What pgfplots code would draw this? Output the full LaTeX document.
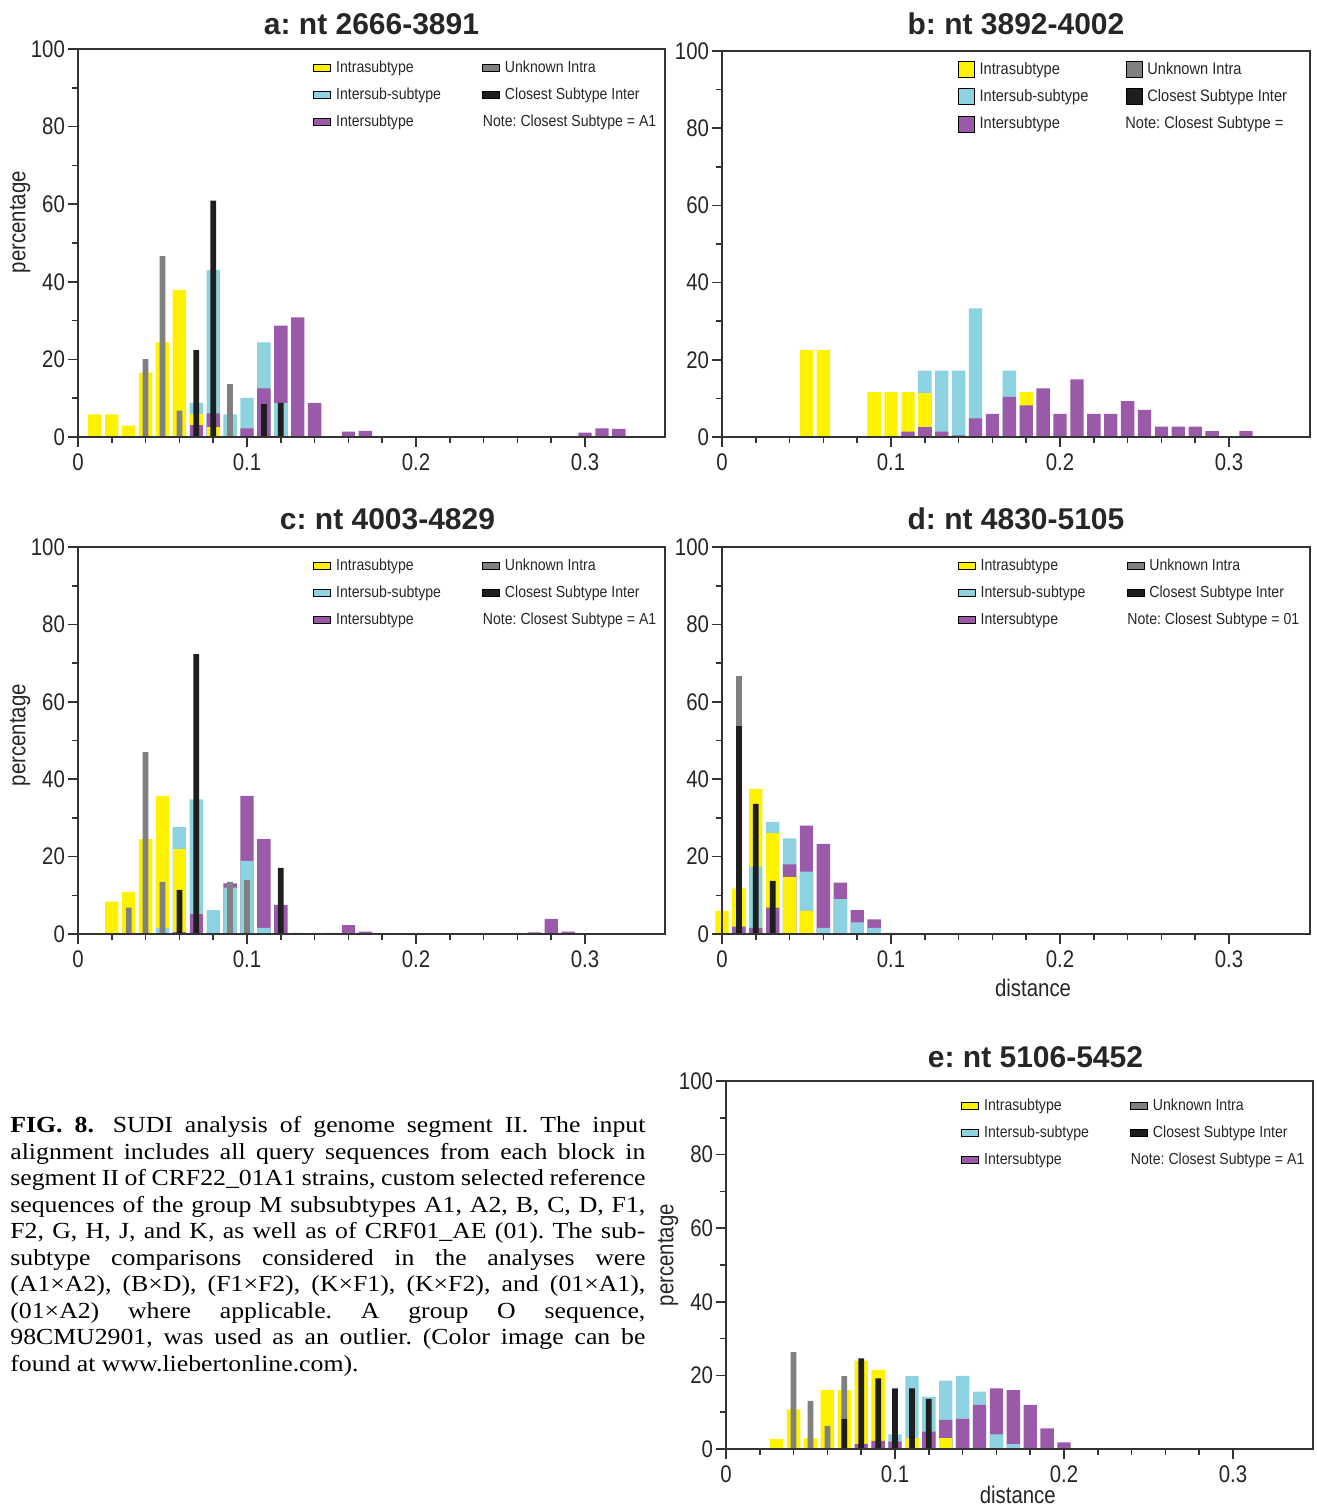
\documentclass[border=0pt]{standalone}
\usepackage{fontspec}
\setmainfont{Liberation Serif}
\newfontfamily\capfont{Liberation Serif}[FakeStretch=1.12]
\newfontfamily\nsans{Liberation Sans}[FakeStretch=0.85]
\newfontfamily\lsans{Liberation Sans}[FakeStretch=0.88]
\newfontfamily\tsans{Liberation Sans}
\usepackage{pgfplots}
\pgfplotsset{compat=1.18}
\frenchspacing

\definecolor{cY}{RGB}{255,242,0}
\definecolor{cC}{RGB}{140,210,225}
\definecolor{cP}{RGB}{155,89,170}
\definecolor{cG}{RGB}{128,128,128}
\definecolor{cK}{RGB}{30,30,30}

\pgfplotsset{
  wb/.style={ybar, bar width=0.0079, bar shift=0pt, fill=#1, draw=none, forget plot},
  nb/.style={ybar, bar width=0.0034, bar shift=0pt, fill=#1, draw=none, forget plot},
  legline/.style={legend image code/.code={\fill[##1] (0pt,-1.6pt) rectangle (8.5pt,1.6pt);}},
  legsq/.style={legend image code/.code={\fill[##1] (0pt,-3.9pt) rectangle (8pt,4.1pt);}},
  panel/.style={
    scale only axis, width=293.5pt, height=194pt,
    xmin=0, xmax=0.3473, ymin=0, ymax=100,
    xtick={0,0.1,0.2,0.3}, xticklabels={0,0.1,0.2,0.3},
    ytick={0,20,...,100}, yticklabels={0,20,40,60,80,100},
    minor x tick num=4, minor y tick num=1,
    tick align=outside, tick pos=left,
    major tick length=5pt, minor tick length=3pt,
    axis on top,
    axis line style={draw=black!80, line width=0.9pt},
    every tick/.style={black!80, line width=0.8pt},
    ticklabel style={font=\nsans\fontsize{12}{14}\selectfont, text=black!85},
    yticklabel style={xshift=2pt},
    /pgf/number format/assume math mode=true,
    scaled ticks=false,
    title style={font=\tsans\bfseries\fontsize{15}{18}\selectfont, text=black!85, at={(0.5,1)}, anchor=base},
    label style={font=\nsans\fontsize{12}{14}\selectfont, text=black!85},
    ylabel style={at={(axis description cs:-0.0988,0.55)}, anchor=center},
    legend columns=2,
    legend cell align=left,
    legend style={draw=none, fill=none, inner sep=0pt, font=\lsans\fontsize{8}{10}\selectfont, text=black!85,
        nodes={inner sep=0pt, text height=6.5pt, text depth=2pt}, row sep=5pt, column sep=0pt, anchor=north west,
        at={(axis description cs:0.4003,1)}, yshift=-5pt},
    clip=false,
  }
}

\newcommand{\legA}[2]{%
  \addlegendimage{#1, fill=cY}\addlegendentry{\hspace*{2.5pt}\makebox[73pt][l]{Intrasubtype}}
  \addlegendimage{#1, fill=cG}\addlegendentry{\hspace*{2.5pt}Unknown Intra}
  \addlegendimage{#1, fill=cC}\addlegendentry{\hspace*{2.5pt}\makebox[73pt][l]{Intersub-subtype}}
  \addlegendimage{#1, fill=cK}\addlegendentry{\hspace*{2.5pt}Closest Subtype Inter}
  \addlegendimage{#1, fill=cP}\addlegendentry{\hspace*{2.5pt}\makebox[73pt][l]{Intersubtype}}
  \addlegendimage{empty legend}\addlegendentry{\hspace*{-8.5pt}Note: Closest Subtype = #2}
}

\begin{document}
\begin{tikzpicture}
\useasboundingbox (0,0) rectangle (658pt,-753.5pt);

% ---------------- a ----------------
\begin{axis}[panel, at={(39pt,-218.5pt)}, anchor=south west,
  title={a: nt 2666-3891}, title style={yshift=1pt},
  ylabel={percentage}, ylabel style={at={(axis description cs:-0.0988,0.554)}}]
\addplot[wb=cY] coordinates {(0.01,5.8)(0.02,5.8)(0.03,2.9)(0.04,16.6)(0.05,24.4)(0.06,37.9)};
\addplot[wb=cC] coordinates {(0.07,8.8)(0.08,43.0)(0.09,5.8)(0.10,10.1)(0.11,24.4)};
\addplot[wb=cP] coordinates {(0.12,28.7)(0.13,30.8)(0.14,8.8)(0.16,1.4)(0.17,1.6)(0.30,1.1)(0.31,2.2)(0.32,2.1)};
\addplot[wb=cY] coordinates {(0.07,5.8)};
\addplot[wb=cP] coordinates {(0.08,6.1)(0.10,2.2)(0.11,12.5)};
\addplot[wb=cC] coordinates {(0.12,8.8)};
\addplot[wb=cP] coordinates {(0.07,3.0)};
\addplot[wb=cY] coordinates {(0.08,2.6)};
\addplot[nb=cG] coordinates {(0.04,20.1)(0.05,46.6)(0.06,6.8)(0.09,13.6)};
\addplot[nb=cK] coordinates {(0.07,22.4)(0.08,60.9)(0.11,8.5)(0.12,8.8)};
\legA{legline}{A1}
\end{axis}

% ---------------- b ----------------
\begin{axis}[panel, at={(361pt,-218.5pt)}, anchor=south west,
  width=294pt, height=193pt, xmax=0.3479,
  title={b: nt 3892-4002}, title style={yshift=2pt},
  legend style={font=\lsans\fontsize{8.3}{10}\selectfont}]
\addplot[wb=cY] coordinates {(0.05,22.5)(0.06,22.5)(0.09,11.6)(0.10,11.6)(0.11,11.6)(0.18,11.6)};
\addplot[wb=cC] coordinates {(0.12,17.2)(0.13,17.2)(0.14,17.2)(0.15,33.3)(0.17,17.2)};
\addplot[wb=cP] coordinates {(0.16,6.0)(0.19,12.6)(0.20,6.0)(0.21,14.9)(0.22,6.0)(0.23,6.0)(0.24,9.3)(0.25,7.0)(0.26,2.7)(0.27,2.7)(0.28,2.7)(0.29,1.5)(0.31,1.5)};
\addplot[wb=cP] coordinates {(0.11,1.4)(0.13,1.4)(0.14,0.4)(0.15,4.8)(0.17,10.4)(0.18,8.2)};
\addplot[wb=cY] coordinates {(0.12,11.4)};
\addplot[wb=cP] coordinates {(0.12,2.7)};
\legA{legsq}{}
\end{axis}

% ---------------- c ----------------
\begin{axis}[panel, at={(39pt,-467pt)}, anchor=south west, height=193.5pt,
  title={c: nt 4003-4829}, title style={yshift=3pt, xshift=8pt},
  ylabel={percentage}, ylabel style={at={(axis description cs:-0.0988,0.514)}}]
\addplot[wb=cY] coordinates {(0.02,8.4)(0.03,10.9)(0.04,24.5)(0.05,35.7)};
\addplot[wb=cC] coordinates {(0.06,27.6)(0.07,34.8)(0.08,6.2)};
\addplot[wb=cP] coordinates {(0.09,13.1)(0.10,35.7)(0.11,24.5)(0.12,7.5)(0.13,0.3)(0.15,0.3)(0.16,2.3)(0.17,0.6)(0.27,0.4)(0.28,3.9)(0.29,0.6)};
\addplot[wb=cC] coordinates {(0.05,1.5)(0.09,12.0)(0.10,18.9)(0.11,1.6)};
\addplot[wb=cY] coordinates {(0.06,21.9)};
\addplot[wb=cP] coordinates {(0.07,5.2)};
\addplot[wb=cP] coordinates {(0.06,0.5)};
\addplot[nb=cG] coordinates {(0.03,6.8)(0.04,47.0)(0.05,13.5)(0.09,13.5)(0.10,13.9)};
\addplot[nb=cK] coordinates {(0.06,11.4)(0.07,72.3)(0.12,17.1)};
\legA{legline}{A1}
\end{axis}

% ---------------- d ----------------
\begin{axis}[panel, at={(361pt,-467pt)}, anchor=south west,
  width=294pt, height=193.5pt, xmax=0.3479,
  title={d: nt 4830-5105}, title style={yshift=3pt},
  xlabel={distance}, xlabel style={at={(axis description cs:0.529,0)}, anchor=center, yshift=-27pt}]
\addplot[wb=cY] coordinates {(0.00,6.0)(0.01,11.8)(0.02,37.5)};
\addplot[wb=cC] coordinates {(0.03,29.0)(0.04,24.7)};
\addplot[wb=cP] coordinates {(0.05,28.0)(0.06,23.3)(0.07,13.3)(0.08,6.2)(0.09,3.8)(0.10,0.3)};
\addplot[wb=cP] coordinates {(0.01,1.9)(0.04,18.0)};
\addplot[wb=cC] coordinates {(0.02,17.4)(0.05,16.1)(0.06,1.6)(0.07,9.0)(0.08,3.0)(0.09,1.6)};
\addplot[wb=cY] coordinates {(0.03,26.2)};
\addplot[wb=cP] coordinates {(0.02,1.6)(0.03,6.8)};
\addplot[wb=cY] coordinates {(0.04,14.7)(0.05,6.0)};
\addplot[nb=cG] coordinates {(0.01,66.7)};
\addplot[nb=cK] coordinates {(0.01,53.7)(0.02,33.6)(0.03,13.7)};
\legA{legline}{01}
\end{axis}

% ---------------- e ----------------
\begin{axis}[panel, at={(363pt,-724.5pt)}, anchor=south west, height=184pt,
  title={e: nt 5106-5452}, title style={yshift=1pt, xshift=8pt},
  ylabel={percentage}, ylabel style={at={(axis description cs:-0.0988,0.527)}},
  xlabel={distance}, xlabel style={at={(axis description cs:0.497,0)}, anchor=center, yshift=-23pt},
  legend style={yshift=-3pt}]
\addplot[wb=cY] coordinates {(0.03,2.7)(0.04,10.8)(0.05,2.9)(0.06,16.0)(0.07,16.0)(0.08,24.0)(0.09,21.5)};
\addplot[wb=cC] coordinates {(0.10,4.0)(0.11,19.8)(0.12,14.2)(0.13,18.6)(0.14,19.9)(0.15,15.6)};
\addplot[wb=cP] coordinates {(0.16,16.5)(0.17,16.0)(0.18,12.0)(0.19,5.6)(0.20,1.8)};
\addplot[wb=cP] coordinates {(0.08,1.3)(0.09,2.2)(0.10,2.0)(0.12,4.7)(0.13,7.9)(0.14,8.2)(0.15,12.0)};
\addplot[wb=cY] coordinates {(0.11,2.9)};
\addplot[wb=cC] coordinates {(0.16,4.0)(0.17,1.3)};
\addplot[wb=cY] coordinates {(0.13,2.9)};
\addplot[nb=cG] coordinates {(0.04,26.3)(0.05,13.1)(0.06,6.3)(0.07,19.8)};
\addplot[nb=cK] coordinates {(0.07,8.2)(0.08,24.6)(0.09,19.2)(0.10,16.5)(0.11,16.5)(0.12,13.6)};
\legA{legline}{A1}
\end{axis}

% ---------------- caption ----------------
\node[anchor=base west, inner sep=0pt, align=left, font=\capfont\fontsize{11.5}{13.25}\selectfont] at (5pt,-685.5pt) {%
\makebox[317.5pt][s]{\textbf{FIG. 8.}\hspace{0.3em} SUDI analysis of genome segment II. The input}\\
\makebox[317.5pt][s]{alignment includes all query sequences from each block in}\\
\makebox[317.5pt][s]{segment II of CRF22\_01A1 strains, custom selected reference}\\
\makebox[317.5pt][s]{sequences of the group M subsubtypes A1, A2, B, C, D, F1,}\\
\makebox[317.5pt][s]{F2, G, H, J, and K, as well as of CRF01\_AE (01). The sub-}\\
\makebox[317.5pt][s]{subtype comparisons considered in the analyses were}\\
\makebox[317.5pt][s]{(A1×A2), (B×D), (F1×F2), (K×F1), (K×F2), and (01×A1),}\\
\makebox[317.5pt][s]{(01×A2) where applicable. A group O sequence,}\\
\makebox[317.5pt][s]{98CMU2901, was used as an outlier. (Color image can be}\\
found at www.liebertonline.com).};
\end{tikzpicture}
\end{document}
